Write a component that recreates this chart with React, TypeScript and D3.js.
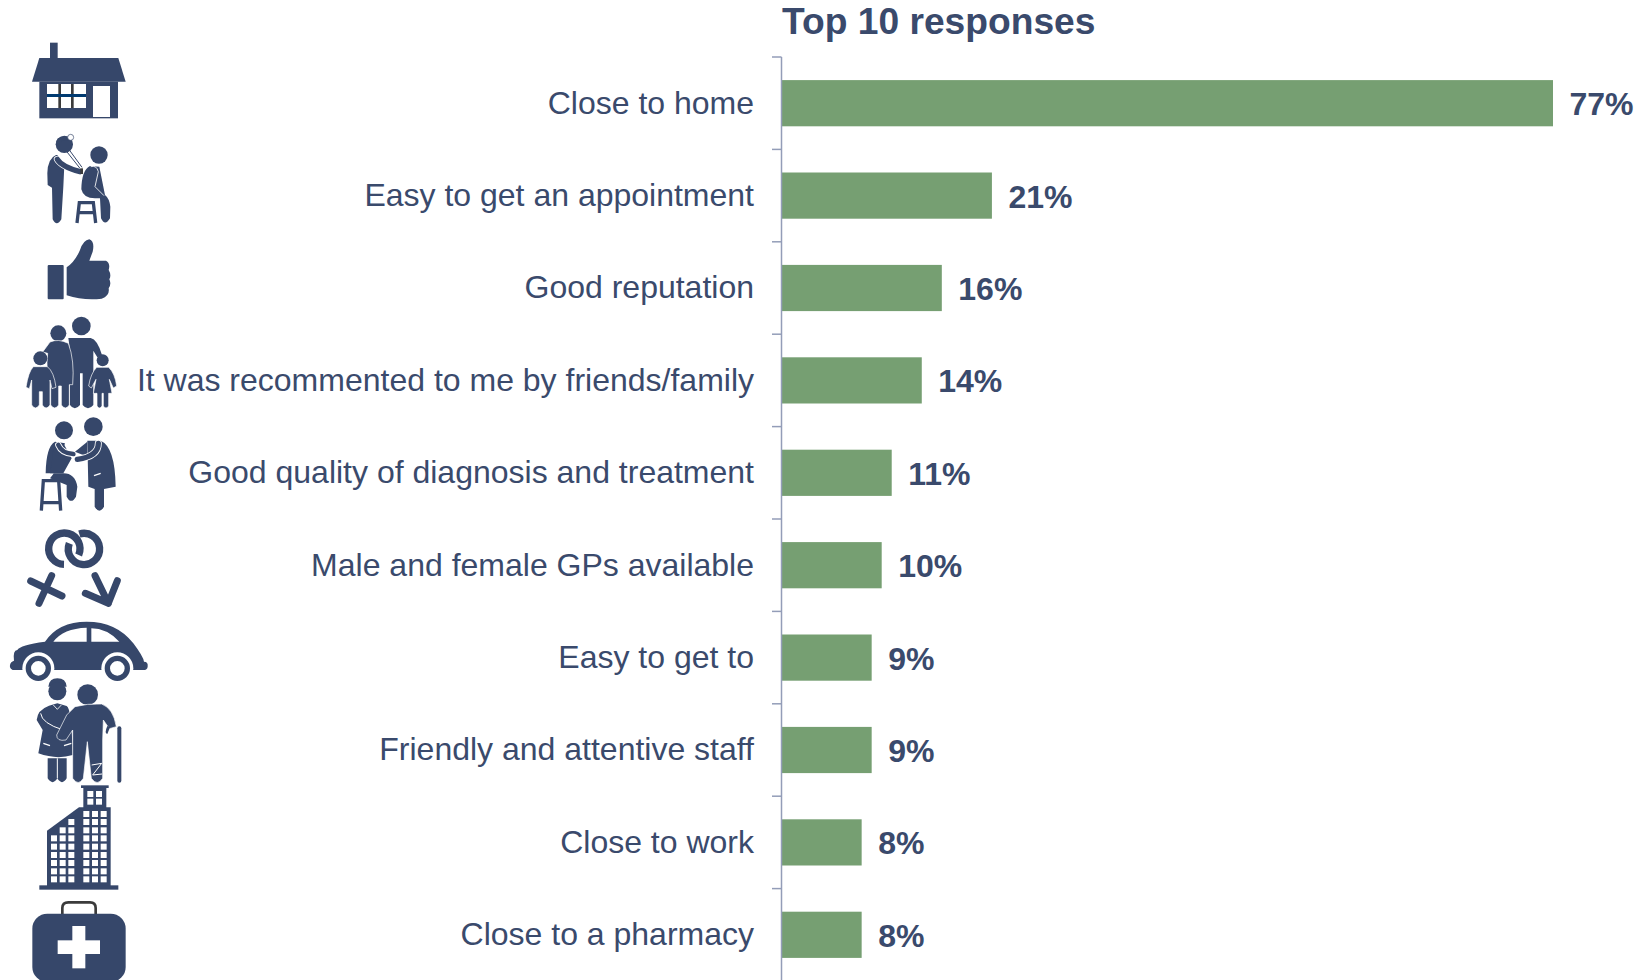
import React from "react";
import * as d3 from "d3";

const categories = [
  "Close to home",
  "Easy to get an appointment",
  "Good reputation",
  "It was recommented to me by friends/family",
  "Good quality of diagnosis and treatment",
  "Male and female GPs available",
  "Easy to get to",
  "Friendly and attentive staff",
  "Close to work",
  "Close to a pharmacy",
];
const values = [77, 21, 16, 14, 11, 10, 9, 9, 8, 8];
const title = "Top 10 responses";

const INK = "#36476a";
const TEXT = "#3a4a6c";
const BAR = "#769f72";
const AXIS = "#939db8";
const FONT = "'Liberation Sans', Arial, sans-serif";

const W = 1645, H = 980;
const x0 = 781.5;
const x = d3.scaleLinear().domain([0, 77]).range([x0, 1553]);
const y = d3.scaleBand().domain(categories).range([57, 981]).paddingInner(0.5).paddingOuter(0.25);

// Icons are drawn in 3x-scale local units
const Z: React.FC<{ oy: number; children: React.ReactNode }> = ({ oy, children }) => (
  <g transform={`translate(0,${oy}) scale(${1 / 3})`}>{children}</g>
);
const limb = (d: string, w: number, outline = false) => (
  <>
    {outline && <path d={d} fill="none" stroke="#fff" strokeWidth={w + 5} strokeLinecap="round" strokeLinejoin="round" />}
    <path d={d} fill="none" stroke={INK} strokeWidth={w} strokeLinecap="round" strokeLinejoin="round" />
  </>
);

const House = () => (
  <g>
    <rect x={150} y={38} width={23} height={52} fill={INK} />
    <path d="M118,84H355L377,155H96Z" fill={INK} />
    <rect x={118} y={155} width={236} height={110} fill={INK} />
    <rect x={141} y={162} width={117} height={72} fill="#fff" />
    <rect x={175} y={162} width={8} height={72} fill="#3b3b3b" />
    <rect x={213} y={162} width={8} height={72} fill="#3b3b3b" />
    <rect x={141} y={192} width={117} height={9} fill="#003a70" />
    <rect x={279} y={168} width={51} height={93} fill="#fff" />
  </g>
);

const DoctorOne = () => (
  <g>
    <circle cx={193} cy={343} r={26} fill={INK} />
    <path d="M168,335Q175,318 205,320L205,330Z" fill={INK} />
    <circle cx={212} cy={322} r={9} fill="#fff" stroke={INK} strokeWidth={2} />
    <path d="M168,375Q143,385 142,430L143,465L156,473L158,568Q170,592 184,568L190,470L193,405L172,375Z" fill={INK} />
    {limb("M172,388Q185,410 240,425", 16, true)}
    <path d="M198,362L240,415" stroke={INK} strokeWidth={3} fill="none" />
    <path d="M208,360L246,412" stroke={INK} strokeWidth={3} fill="none" />
    <rect x={241} y={415} width={8} height={17} fill="#3b3b3b" />
    <circle cx={297} cy={375} r={26} fill={INK} />
    <path d="M270,408Q245,420 244,478Q250,505 285,505L300,505L303,565Q315,590 330,565L331,530Q328,505 315,495L298,410Z" fill={INK} />
    <path d="M272,410Q290,405 295,425L285,470L312,497" fill="none" stroke="#fff" strokeWidth={2.5} />
    <path d="M231,579L238,518H280L287,579M235,548H283" fill="none" stroke={INK} strokeWidth={10} />
  </g>
);

const Thumb = () => (
  <g fill={INK}>
    <rect x={143} y={705} width={48} height={103} rx={3} />
    <path d="M200,712Q225,695 240,660Q250,630 268,628Q285,635 278,665L268,692L318,692Q332,700 326,720Q335,735 328,748Q335,762 326,775Q330,798 305,806Q250,812 200,796Z" />
  </g>
);

const Family = () => (
  <g>
    <circle cx={244} cy={48} r={28} fill={INK} />
    <path d="M205,84H272Q292,88 306,135L292,142L280,122V285Q264,305 248,285V190H240V285Q224,305 210,285V120Z" fill={INK} />
    <circle cx={175} cy={70} r={24} fill={INK} />
    <path d="M150,96Q175,85 205,100Q224,150 218,224H208V285Q196,303 184,285V228H176V285Q164,303 152,285V222Q136,190 143,130L128,126Z" fill={INK} stroke="#fff" strokeWidth={2} />
    <circle cx={121} cy={145} r={21} fill={INK} />
    <path d="M100,170H142Q162,185 168,232L156,236L150,210V285Q138,303 127,285V245H118V285Q106,303 95,285V210L88,236L78,232Q85,185 100,170Z" fill={INK} stroke="#fff" strokeWidth={2} />
    <circle cx={308} cy={151} r={18} fill={INK} />
    <path d="M290,172H326Q345,190 350,228L340,234L328,208L336,250H326V288Q318,300 310,288V250H306V288Q298,300 291,288V250H280L288,208L274,234L266,228Q272,190 290,172Z" fill={INK} stroke="#fff" strokeWidth={2} />
  </g>
);

const DoctorTwo = () => (
  <g>
    <circle cx={192} cy={361} r={27} fill={INK} />
    <path d="M165,395Q138,410 137,490L182,490Q225,485 232,530L228,560Q213,585 200,560L200,525L150,505Q182,470 185,430L195,400Z" fill={INK} />
    <path d="M160,400Q160,440 150,490L190,490L215,445L190,400Z" fill={INK} />
    {limb("M175,405Q185,430 220,432", 14, true)}
    <path d="M124,602L130,512H176L182,602M128,578H178" fill="none" stroke={INK} strokeWidth={10} />
    <circle cx={280} cy={350} r={28} fill={INK} />
    <path d="M262,392H302Q345,410 347,530L312,537V590Q298,614 284,590V537L265,530Z" fill={INK} />
    <path d="M262,395L225,425L262,440Z" fill={INK} />
    {limb("M295,400Q295,440 232,448", 16, true)}
    <path d="M282,497L302,490" stroke="#fff" strokeWidth={4} />
    <path d="M262,378L232,418" stroke="#fff" strokeWidth={2.5} fill="none" />
  </g>
);

const Symbols = () => (
  <g fill="none" stroke={INK}>
    <path d="M192,763A47,47 0 1 1 236,735" strokeWidth={22} />
    <path d="M238,672A47,47 0 1 1 208,700" strokeWidth={22} />
    <g strokeWidth={21} strokeLinecap="round" strokeLinejoin="round">
      <path d="M155,797L117,880M92,813L186,858" />
      <path d="M285,797L325,880M256,850L325,880L352,812" />
    </g>
  </g>
);

const Car = () => (
  <g>
    <path d="M52,1020Q60,1005 135,995Q175,935 260,935Q350,935 400,1000Q430,1040 432,1055Q445,1055 443,1070Q442,1080 430,1080H38Q28,1075 30,1065Q32,1055 42,1052Q38,1020 52,1020Z" fill={INK} />
    <path d="M160,995Q190,955 260,953V995ZM274,955Q320,955 358,995H274Z" fill="#fff" />
    <circle cx={115} cy={1075} r={48} fill="#fff" />
    <circle cx={352} cy={1075} r={48} fill="#fff" />
    <circle cx={115} cy={1075} r={30} fill="#fff" stroke={INK} strokeWidth={16} />
    <circle cx={352} cy={1075} r={30} fill="#fff" stroke={INK} strokeWidth={16} />
  </g>
);

const Elderly = () => (
  <g>
    <path d="M145,50Q148,25 172,25Q198,25 200,50Z" fill={INK} />
    <circle cx={172} cy={64} r={27} fill={INK} />
    <path d="M147,107L172,100L200,108Q215,115 218,255Q170,270 115,250L128,180L110,150Q112,120 147,107Z" fill={INK} />
    <path d="M143,265H200V325Q186,348 172,325Q158,348 143,325Z" fill={INK} />
    <path d="M172,265V325" stroke="#fff" strokeWidth={3} />
    <path d="M122,130Q125,160 190,180" fill="none" stroke="#fff" strokeWidth={3} />
    <path d="M130,220L150,227M192,227L214,220" stroke="#fff" strokeWidth={4} />
    <path d="M160,105L172,118L184,105" fill="none" stroke="#fff" strokeWidth={2.5} />
    <circle cx={263} cy={74} r={31} fill={INK} />
    <path d="M225,110Q262,100 305,102Q340,115 349,170L328,176L310,150L308,210L308,325Q292,350 274,325L262,215L250,325Q235,350 218,325V180L198,210Q170,215 170,195L200,135Z" fill={INK} stroke="#fff" strokeWidth={2} />
    <path d="M275,285L305,280L278,315L306,312" fill="none" stroke="#fff" strokeWidth={3} />
    <path d="M358,175V332" fill="none" stroke={INK} strokeWidth={12} strokeLinecap="round" />
    <path d="M322,168Q312,190 322,192L330,172Z" fill={INK} />
  </g>
);

const rowTops = [423, 447, 472, 496, 521, 546, 570, 595, 619];
const Building = () => (
  <g>
    <rect x={243} y={346} width={83} height={8} fill={INK} />
    <rect x={250} y={352} width={69} height={62} fill={INK} />
    {[262, 288].map((wx) => [363, 386].map((wy) => <rect key={`${wx}-${wy}`} x={wx} y={wy} width={18} height={18} fill="#fff" />))}
    <path d="M141,482L237,412H332V648H141Z" fill={INK} />
    <rect x={118} y={646} width={237} height={13} fill={INK} />
    {[250, 276, 302].map((wx) => rowTops.map((wy) => <rect key={`${wx}-${wy}`} x={wx} y={wy} width={18} height={18} fill="#fff" />))}
    {[{ c: 153, s: 3 }, { c: 179, s: 2 }, { c: 205, s: 1 }].map(({ c, s }) =>
      rowTops.slice(s).map((wy) => <rect key={`${c}-${wy}`} x={c} y={wy} width={18} height={18} fill="#fff" />)
    )}
  </g>
);

const Kit = () => (
  <g>
    <path d="M187,735V714Q187,697 205,697H270Q287,697 287,714V735" fill="none" stroke="#3b3b3b" strokeWidth={8} />
    <rect x={97} y={731} width={280} height={205} rx={45} fill={INK} />
    <rect x={217} y={768} width={39} height={127} fill="#fff" />
    <rect x={173} y={811} width={127} height={41} fill="#fff" />
  </g>
);

export default function App() {
  const step = y.step();
  const ticks = d3.range(categories.length + 1).map((i) => 57 + i * step);
  return (
    <svg
      width={W}
      height={H}
      viewBox={`0 0 ${W} ${H}`}
      style={{ position: "absolute", left: 0, top: 0, display: "block", background: "#fff" }}
      fontFamily={FONT}
    >
      <text x={782} y={34} fontSize={37.2} fontWeight="bold" fill={TEXT}>{title}</text>

      <Z oy={30}>
        <House />
        <DoctorOne />
        <Thumb />
      </Z>
      <Z oy={310}>
        <Family />
        <DoctorTwo />
        <Symbols />
        <Car />
      </Z>
      <Z oy={670}>
        <Elderly />
        <Building />
        <Kit />
      </Z>

      {categories.map((c, i) => (
        <g key={c}>
          <rect x={x0} y={y(c)!} width={x(values[i]) - x0} height={y.bandwidth()} fill={BAR} />
          <text x={754} y={y(c)! + y.bandwidth() / 2 + 10.4} textAnchor="end" fontSize={32} fill={TEXT}>{c}</text>
          <text x={x(values[i]) + 16.5} y={y(c)! + y.bandwidth() / 2 + 12} fontSize={32} fontWeight="bold" fill={TEXT}>{values[i]}%</text>
        </g>
      ))}

      <line x1={x0} x2={x0} y1={57} y2={H} stroke={AXIS} strokeWidth={1.5} />
      {ticks.map((t) => (
        <line key={t} x1={772} x2={x0} y1={t} y2={t} stroke={AXIS} strokeWidth={1.5} />
      ))}
    </svg>
  );
}
